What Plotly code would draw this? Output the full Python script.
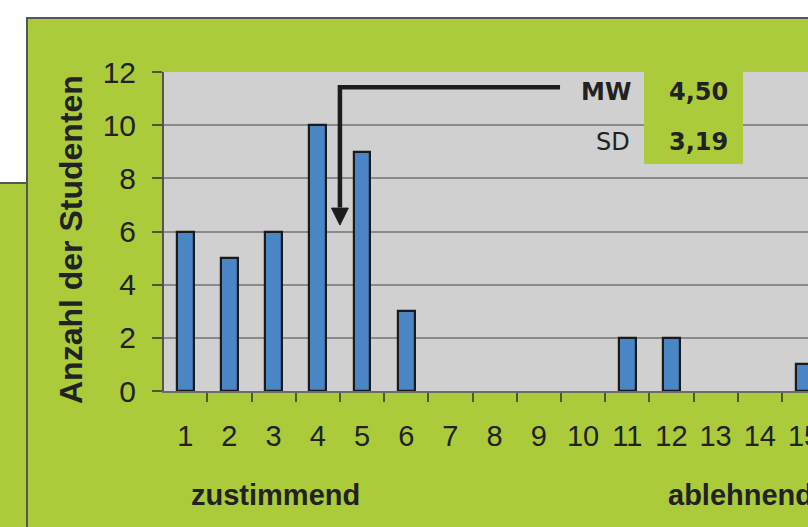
import plotly.graph_objects as go
import numpy as np

# Answers per scale point (1 = zustimmend ... 15 = ablehnend)
categories = list(range(1, 16))
counts = [6, 5, 6, 10, 9, 3, 0, 0, 0, 0, 2, 2, 0, 0, 1]
tick_labels = [str(c) for c in categories]
y_ticks = [0, 2, 4, 6, 8, 10, 12]

# Mean and sample standard deviation of the answers
vals = np.repeat(categories, counts)
mw = vals.mean()
sd = vals.std(ddof=1)

def de(v):
    return f"{v:.2f}".replace(".", ",")

W, H = 808, 527
L, R, T, B = 164, 0, 72, 136
PW, PH = W - L - R, H - T - B

def px(x):
    return (x - L) / PW

def py(y):
    return (H - B - y) / PH

GREEN = "#abcb3b"
GRAY = "#d0d0d0"
BORDER = "#555555"
TXT = "#222222"

fig = go.Figure()
fig.add_trace(go.Bar(
    x=categories, y=counts, width=0.38,
    marker=dict(color="#4a86c6",
                line=dict(color="#1a1a1a", width=[2.2 if c > 0 else 0 for c in counts])),
    showlegend=False, hoverinfo="skip",
))

shapes = [
    # main green panel
    dict(type="rect", xref="paper", yref="paper", layer="below",
         x0=px(27), x1=px(W + 20), y0=py(H + 20), y1=py(18),
         fillcolor=GREEN, line=dict(color=BORDER, width=2)),
    # neighbouring panel on the left
    dict(type="rect", xref="paper", yref="paper", layer="below",
         x0=px(-20), x1=px(27), y0=py(H + 20), y1=py(183),
         fillcolor=GREEN, line=dict(color=BORDER, width=2)),
    # plot area
    dict(type="rect", xref="paper", yref="paper", layer="below",
         x0=0, x1=px(W + 20), y0=0, y1=1,
         fillcolor=GRAY, line=dict(width=0)),
    # box behind the statistics
    dict(type="rect", xref="paper", yref="paper", layer="above",
         x0=px(644), x1=px(743), y0=py(164), y1=py(70),
         fillcolor=GREEN, line=dict(width=0)),
    # pointer to the mean
    dict(type="path", xref="x", yref="y", layer="above",
         path=f"M 9.48 11.43 L {mw} 11.43 L {mw} 6.9",
         line=dict(color="#1c1c1c", width=4.5)),
    dict(type="path", xref="x", yref="y", layer="above",
         path=f"M {mw - 0.19} 6.88 L {mw + 0.19} 6.88 L {mw} 6.24 Z",
         fillcolor="#1c1c1c", line=dict(color="#1c1c1c", width=1)),
]

annotations = [
    dict(text="<b>Anzahl der Studenten</b>", textangle=-90, xref="paper", yref="paper",
         x=px(71), y=py(240), showarrow=False, xanchor="center", yanchor="middle",
         font=dict(family="Liberation Sans", size=32, color=TXT)),
    dict(text="<b>zustimmend</b>", xref="paper", yref="paper", x=px(189), y=py(495),
         showarrow=False, xanchor="left", yanchor="middle",
         font=dict(family="Liberation Sans", size=29, color=TXT)),
    dict(text="<b>ablehnend</b>", xref="paper", yref="paper", x=px(666), y=py(495),
         showarrow=False, xanchor="left", yanchor="middle",
         font=dict(family="Liberation Sans", size=29, color=TXT)),
    dict(text="<b>MW</b>", xref="paper", yref="paper", x=px(633), y=py(92),
         showarrow=False, xanchor="right", yanchor="middle",
         font=dict(family="DejaVu Sans", size=24, color=TXT)),
    dict(text=f"<b>{de(mw)}</b>", xref="paper", yref="paper", x=px(730), y=py(92),
         showarrow=False, xanchor="right", yanchor="middle",
         font=dict(family="DejaVu Sans", size=24, color=TXT)),
    dict(text="SD", xref="paper", yref="paper", x=px(632), y=py(142),
         showarrow=False, xanchor="right", yanchor="middle",
         font=dict(family="DejaVu Sans", size=24, color=TXT)),
    dict(text=f"<b>{de(sd)}</b>", xref="paper", yref="paper", x=px(730), y=py(142),
         showarrow=False, xanchor="right", yanchor="middle",
         font=dict(family="DejaVu Sans", size=24, color=TXT)),
]

fig.update_layout(
    width=W, height=H,
    margin=dict(l=L, r=R, t=T, b=B, pad=0, autoexpand=False),
    paper_bgcolor="white", plot_bgcolor=GRAY,
    shapes=shapes, annotations=annotations,
    bargap=0,
    xaxis=dict(
        range=[0.52, 15.09], tickmode="array", tickvals=categories, ticktext=tick_labels,
        ticks="", showgrid=False, zeroline=False, automargin=False,
        showline=True, linecolor="#6a6a6a", linewidth=2,
        tickfont=dict(family="Liberation Sans", size=29, color=TXT),
        ticklabelstandoff=18, ticklabeloverflow="allow",
        minor=dict(tickmode="array", tickvals=[c + 0.5 for c in [0] + categories],
                   ticks="outside", ticklen=9, tickwidth=1.5, tickcolor="#4d5a2a", showgrid=False),
    ),
    yaxis=dict(
        range=[0, 12], tickmode="array", tickvals=y_ticks, automargin=False,
        ticks="outside", ticklen=10, tickwidth=1.5, tickcolor="#4d5a2a",
        showgrid=True, gridcolor="#8a8a8a", gridwidth=2, zeroline=False,
        showline=True, linecolor=BORDER, linewidth=2,
        tickfont=dict(family="Liberation Sans", size=30, color=TXT),
        ticklabelstandoff=10,
    ),
)

fig.write_html("out.html")
